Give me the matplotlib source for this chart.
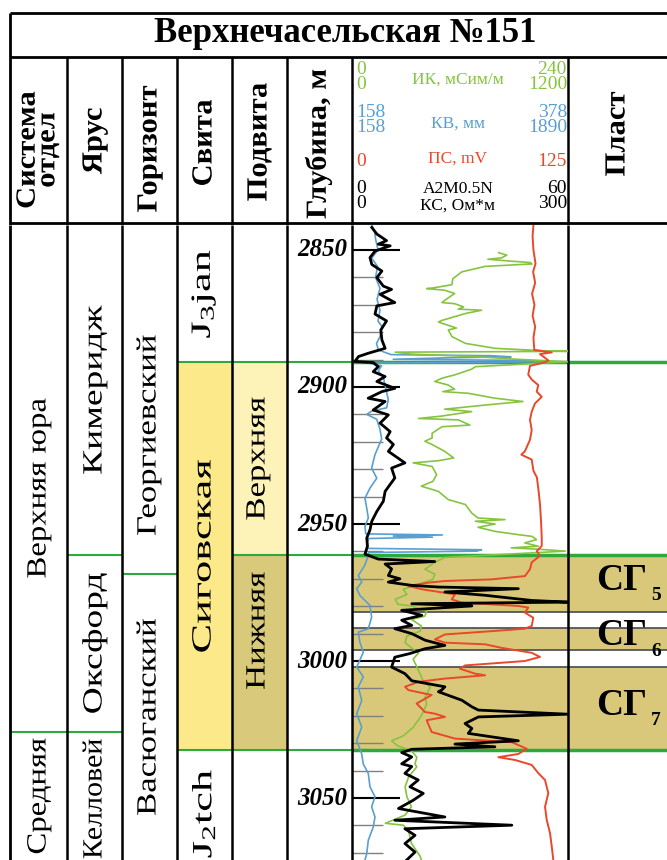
import numpy as np
import matplotlib
matplotlib.use("Agg")
import matplotlib.pyplot as plt
from matplotlib.patheffects import AbstractPathEffect
from matplotlib.transforms import Affine2D

plt.rcParams['font.family'] = ['Liberation Serif', 'DejaVu Serif']
plt.rcParams['mathtext.fontset'] = 'custom'
plt.rcParams['mathtext.rm'] = 'Liberation Serif'
plt.rcParams['mathtext.it'] = 'Liberation Serif:italic'
plt.rcParams['mathtext.bf'] = 'Liberation Serif:bold'

# ---------------- data ----------------
well_name = "Верхнечасельская №151"

# depth window of the log (m)
d_top, d_bot = 2840.9, 3072.6

# stratigraphy: names, top and bottom depths
system_names = ["Верхняя юра", "Средняя"]
system_tops = [2840.9, 3025.9]
system_bots = [3025.9, 3072.6]

stage_names = ["Кимеридж", "Оксфорд", "Келловей"]
stage_tops = [2840.9, 2961.3, 3025.9]
stage_bots = [2961.3, 3025.9, 3072.6]

horizon_names = ["Георгиевский", "Васюганский"]
horizon_tops = [2840.9, 2968.2]
horizon_bots = [2968.2, 3072.6]

suite_names = [r"$\mathrm{J_3jan}$", "Сиговская", r"$\mathrm{J_2tch}$"]
suite_tops = [2840.9, 2890.9, 3032.5]
suite_bots = [2890.9, 3032.5, 3072.6]

subsuite_names = ["Верхняя", "Нижняя"]
subsuite_tops = [2890.9, 2961.3]
subsuite_bots = [2961.3, 3032.5]

# reservoir beds
bed_names = ["СГ", "СГ", "СГ"]
bed_index = ["5", "6", "7"]
bed_tops = [2961.3, 2988.0, 3002.2]
bed_bots = [2982.1, 2996.0, 3032.5]

# ИК, мСим/м (0-240)
ik_depth = [2851.0, 2851.9, 2852.9, 2853.4, 2854.1, 2854.6, 2855.1, 2856.0, 2858.0, 2860.5,
            2862.7, 2863.9, 2864.1, 2864.7, 2865.9, 2868.4, 2869.2, 2869.6, 2870.8, 2871.6,
            2872.0, 2873.2, 2875.7, 2876.3, 2878.5, 2879.2, 2881.6, 2884.1, 2885.9, 2886.8,
            2887.0, 2887.3, 2888.0, 2889.0, 2889.9, 2890.8, 2892.6, 2893.5, 2895.6, 2896.8,
            2898.0, 2899.3, 2900.8, 2901.7, 2902.3, 2904.1, 2905.3, 2906.6, 2908.1, 2909.0,
            2910.6, 2911.5, 2912.0, 2913.9, 2914.5, 2916.9, 2918.6, 2919.8, 2921.0, 2923.5,
            2925.9, 2926.9, 2927.7, 2929.0, 2932.0, 2934.4, 2936.2, 2938.1, 2941.1, 2942.9,
            2946.0, 2947.8, 2948.4, 2949.0, 2950.0, 2951.2, 2952.7, 2953.9, 2954.5, 2955.7,
            2956.9, 2958.1, 2958.7, 2959.2, 2959.9, 2962.2, 2964.0, 2966.5, 2968.3, 2970.2,
            2972.0, 2973.8, 2975.7, 2977.5, 2979.3, 2979.9, 2981.8, 2983.6, 2984.8, 2987.2,
            2989.1, 2990.9, 2993.3, 2995.2, 2997.0, 2999.3, 3003.5, 3007.2, 3009.6, 3013.3,
            3015.7, 3020.0, 3024.2, 3027.3, 3029.1, 3031.0, 3032.7, 3035.1, 3037.6, 3038.6,
            3042.2, 3045.9, 3049.5, 3053.2, 3056.2, 3059.2, 3059.9, 3062.2, 3066.5, 3071.4,
            3072.6]
ik_value = [163, 172, 166, 151, 177, 198, 200, 148, 122, 112,
            111, 89, 83, 103, 114, 103, 100, 114, 124, 118,
            144, 126, 100, 96, 116, 107, 111, 126, 159, 214,
            240, 48, 66, 140, 184, 240, 137, 133, 114, 100,
            92, 107, 114, 101, 129, 159, 190, 148, 103, 133,
            100, 74, 118, 131, 100, 89, 89, 81, 89, 103,
            113, 96, 68, 89, 94, 90, 77, 96, 107, 126,
            133, 140, 170, 137, 159, 140, 159, 185, 200, 205,
            192, 207, 177, 207, 237, 103, 92, 81, 92, 90,
            74, 57, 61, 48, 51, 66, 83, 81, 66, 77,
            76, 61, 59, 66, 74, 68, 74, 79, 87, 81,
            83, 77, 68, 57, 44, 51, 66, 72, 70, 72,
            63, 59, 61, 66, 59, 37, 57, 63, 66, 76,
            77]

# ПС, mV (0-125)
ps_depth = [2840.9, 2845.0, 2850.0, 2855.0, 2858.0, 2862.0, 2866.0, 2870.0, 2874.0, 2878.0,
            2882.0, 2886.5, 2887.4, 2888.0, 2890.3, 2891.0, 2892.3, 2895.5, 2897.3, 2899.3,
            2901.7, 2903.6, 2906.0, 2909.0, 2912.0, 2915.7, 2919.3, 2923.5, 2924.7, 2926.5,
            2930.6, 2933.0, 2938.0, 2942.9, 2949.0, 2955.0, 2958.0, 2959.9, 2961.6, 2964.0,
            2966.5, 2969.0, 2970.2, 2970.8, 2971.4, 2972.6, 2973.8, 2975.7, 2977.5, 2978.7,
            2979.9, 2980.5, 2982.3, 2984.2, 2987.2, 2988.2, 2989.1, 2990.3, 2992.1, 2993.3,
            2993.9, 2995.2, 2997.0, 2998.5, 3000.0, 3001.6, 3002.8, 3004.6, 3005.2, 3006.4,
            3007.6, 3009.4, 3010.6, 3012.4, 3015.5, 3018.6, 3019.2, 3020.4, 3021.6, 3025.9,
            3028.3, 3029.6, 3032.0, 3033.9, 3035.1, 3036.1, 3037.9, 3040.9, 3043.4, 3048.2,
            3053.2, 3058.0, 3062.8, 3067.7, 3072.6]
ps_value = [105.0, 104.5, 105.0, 106.2, 104.8, 106.0, 104.2, 105.6, 104.5, 106.0,
            105.0, 105.5, 115.6, 108.8, 113.6, 111.7, 103.0, 102.0, 104.0, 107.8,
            106.9, 109.8, 105.9, 104.0, 103.0, 104.0, 103.0, 100.0, 98.0, 104.0,
            105.0, 107.0, 108.0, 108.8, 109.4, 109.8, 109.8, 106.9, 108.8, 104.0,
            103.0, 100.1, 80.8, 53.8, 44.2, 32.6, 40.3, 59.6, 57.7, 63.5,
            96.3, 102.0, 100.0, 104.9, 104.0, 100.0, 80.8, 53.8, 48.0, 53.8,
            77.0, 86.6, 104.0, 108.8, 100.0, 65.4, 62.5, 71.2, 77.0, 53.8,
            38.4, 30.7, 32.6, 46.1, 37.4, 42.2, 48.0, 53.8, 43.2, 46.1,
            59.6, 92.4, 101.1, 96.3, 84.7, 94.3, 104.0, 107.8, 111.7, 113.6,
            111.7, 112.7, 114.6, 115.6, 116.5]

# КВ, мм (158-378)
kv_depth = [2840.9, 2843.0, 2846.0, 2850.0, 2853.0, 2856.0, 2860.0, 2864.0, 2868.0, 2872.0,
            2876.0, 2878.0, 2881.6, 2884.1, 2886.5, 2888.2, 2888.6, 2889.0, 2889.4, 2889.9,
            2890.3, 2890.7, 2891.0, 2891.3, 2892.3, 2894.1, 2896.5, 2899.3, 2904.6, 2907.6,
            2908.8, 2910.0, 2911.8, 2915.4, 2919.0, 2924.7, 2929.6, 2933.3, 2936.9, 2940.6,
            2944.2, 2947.8, 2950.9, 2953.6, 2954.0, 2954.4, 2954.8, 2955.3, 2957.1, 2958.9,
            2959.4, 2959.9, 2960.4, 2961.5, 2965.1, 2968.8, 2971.2, 2973.6, 2976.1, 2979.7,
            2984.0, 2988.2, 2989.5, 2993.1, 2996.8, 3002.2, 3005.8, 3009.5, 3014.4, 3019.2,
            3024.1, 3029.0, 3033.9, 3037.6, 3041.0, 3045.9, 3049.5, 3053.2, 3056.9, 3060.5,
            3065.4, 3070.3, 3072.6]
kv_value = [178, 181, 182, 184.5, 178, 184, 182, 186.5, 183.5, 186.5,
            184.5, 188.6, 186.5, 183, 184.8, 198, 300, 320, 250, 200,
            330, 355, 300, 175, 188, 184.8, 190, 191.6, 195, 193.3,
            178, 173, 183.2, 186.5, 188.2, 181.4, 178, 183.2, 176.3, 171.2,
            173, 174.6, 171.2, 172, 250, 200, 240, 175, 173, 173,
            290, 285, 175, 174.6, 171, 164.4, 168, 162.8, 166.1, 176.3,
            178, 174.6, 164.4, 166, 169.5, 162.8, 169.5, 164.4, 167.9, 162.8,
            167.9, 162.8, 167.9, 169.5, 174.6, 176.3, 181.4, 178, 181.4, 179.7,
            174.6, 173, 171.2]

# КС, Ом*м, A2M0.5N (0-60)
ks_depth = [2841.8, 2844.2, 2846.6, 2847.9, 2848.5, 2850.4, 2852.8, 2855.3, 2857.7, 2860.1,
            2863.2, 2864.4, 2866.2, 2869.2, 2870.4, 2873.4, 2875.9, 2879.2, 2882.8, 2885.9,
            2887.7, 2888.9, 2890.7, 2891.1, 2892.6, 2894.4, 2896.2, 2898.0, 2900.5, 2901.7,
            2904.1, 2905.3, 2908.4, 2910.2, 2913.2, 2916.3, 2918.6, 2921.0, 2923.5, 2927.7,
            2929.6, 2933.2, 2938.1, 2941.7, 2945.4, 2949.0, 2952.1, 2955.1, 2958.1, 2961.0,
            2962.8, 2963.7, 2964.6, 2966.4, 2968.8, 2970.0, 2971.2, 2972.4, 2973.0, 2973.6,
            2974.8, 2976.0, 2977.9, 2978.5, 2979.1, 2979.9, 2981.5, 2983.3, 2985.1, 2987.0,
            2988.2, 2990.0, 2992.4, 2994.3, 2995.5, 2997.3, 2998.6, 3002.2, 3004.6, 3007.2,
            3009.4, 3010.6, 3011.2, 3014.3, 3016.7, 3017.9, 3019.4, 3020.4, 3022.8, 3024.6,
            3026.4, 3029.1, 3030.3, 3031.3, 3032.2, 3033.4, 3035.0, 3037.5, 3038.5, 3041.0,
            3043.4, 3045.9, 3048.3, 3050.8, 3053.8, 3056.9, 3058.1, 3059.9, 3061.2, 3063.6,
            3066.6, 3069.7, 3072.6]
ks_value = [5.5, 6.9, 9.6, 7.3, 10.6, 6.4, 5.0, 5.5, 8.3, 6.9,
            8.7, 11.0, 7.8, 11.9, 6.9, 6.4, 9.6, 8.0, 8.3, 9.2,
            4.5, 1.8, 0.8, 5.9, 7.3, 5.9, 9.2, 6.9, 11.9, 8.3,
            4.5, 9.2, 5.9, 10.1, 7.8, 10.6, 9.6, 11.5, 10.1, 14.7,
            11.0, 11.9, 9.2, 8.7, 6.9, 5.5, 5.0, 4.1, 4.3, 3.6,
            7.3, 23.0, 9.2, 11.0, 10.1, 13.3, 10.1, 16.6, 24.0, 46.2,
            25.8, 36.9, 49.9, 60.0, 16.6, 33.3, 13.8, 19.4, 13.8, 16.6,
            11.9, 16.6, 20.3, 25.8, 20.3, 16.0, 11.9, 11.0, 14.7, 16.6,
            25.8, 24.9, 24.0, 30.5, 33.3, 35.1, 60.0, 35.1, 31.4, 33.3,
            32.3, 46.2, 28.6, 39.7, 16.6, 13.8, 16.6, 13.8, 16.6, 14.7,
            18.4, 16.1, 19.8, 17.0, 12.9, 25.8, 11.9, 44.4, 14.7, 17.5,
            14.7, 17.5, 15.2]

# ---------------- layout (pixels) ----------------
W, H = 667, 860
HEAD = 225
col_x = [10, 67, 122, 177, 232, 287, 352, 568]
track_l, track_r = 352, 568

c_green_line = "#2eaa3c"
c_ik, c_kv, c_ps = "#86c440", "#5a9fd0", "#e8482c"
c_sig, c_up, c_low, c_bed = "#fce98a", "#fdf2b8", "#d8c97b", "#d9c87a"


class Stretch(AbstractPathEffect):
    """draw the text path stretched along its own baseline (tall narrow look)"""

    def __init__(self, sx):
        super().__init__()
        self.sx = sx

    def draw_path(self, renderer, gc, tpath, affine, rgbFace=None):
        ext = tpath.get_extents()
        cx = (ext.x0 + ext.x1) / 2
        pre = Affine2D().translate(-cx, 0).scale(self.sx, 1).translate(cx, 0)
        renderer.draw_path(gc, tpath, pre + affine, rgbFace)


fig = plt.figure(figsize=(W / 100, H / 100), dpi=100)

# ---------------- header ----------------
ah = fig.add_axes([0, 1 - HEAD / H, 1, HEAD / H])
ah.set_xlim(0, W)
ah.set_ylim(HEAD, 0)
ah.axis("off")

ah.hlines([13, 57, 223], 10, W, color="k", lw=2)
ah.vlines(10, 13, HEAD, color="k", lw=2)
ah.vlines(col_x[1:], 57, HEAD, color="k", lw=1.8)
ah.text(345, 34, well_name, ha="center", va="center", fontsize=25, fontweight="bold")

ah.text(38, 150, "Система\nотдел", rotation=90, ha="center", va="center", fontsize=20,
        fontweight="bold", linespacing=0.72, multialignment="center",
        path_effects=[Stretch(1.1)])
heads = ["Ярус", "Горизонт", "Свита", "Подвита", "Глубина, м"]
head_x = [94, 149, 204, 259, 318]
head_y = [141, 149, 143, 142, 144]
for t, x, y in zip(heads, head_x, head_y):
    ah.text(x, y, t, rotation=90, ha="center", va="center", fontsize=21, fontweight="bold",
            path_effects=[Stretch(1.05)])
ah.text(617, 134, "Пласт", rotation=90, ha="center", va="center", fontsize=21, fontweight="bold",
        path_effects=[Stretch(1.05)])

# log legend: stacked scale ends and curve names
lx0, lx1, lxc = 356, 567, 458
leg = [
    ("0\n0", "240\n1200", 77, "ИК, мСим/м", 80, c_ik),
    ("158\n158", "378\n1890", 120, "КВ, мм", 124, c_kv),
    ("0", "125", 161, "ПС, mV", 159, c_ps),
    ("0\n0", "60\n300", 196, "A2M0.5N\nКС, Ом*м", 197, "k"),
]
for lo, hi, y, lab, ly, c in leg:
    ah.text(lx0, y, lo, ha="left", va="center", fontsize=14, color=c, linespacing=0.8)
    ah.text(lx1, y, hi, ha="right", va="center", fontsize=14, color=c, linespacing=0.8,
            multialignment="right")
    ah.text(lxc, ly, lab, ha="center", va="center", fontsize=12.5, color=c, linespacing=1.05)

# ---------------- body ----------------
ab = fig.add_axes([0, 0, 1, (H - HEAD) / H])
ab.set_xlim(0, W)
ab.set_ylim(d_bot, d_top)
ab.axis("off")

# fills
ab.fill_between([177, 232], suite_tops[1], suite_bots[1], color=c_sig, lw=0)
ab.fill_between([232, 287], subsuite_tops[0], subsuite_bots[0], color=c_up, lw=0)
ab.fill_between([232, 287], subsuite_tops[1], subsuite_bots[1], color=c_low, lw=0)
for t, b in zip(bed_tops, bed_bots):
    ab.fill_between([track_l, W], t, b, color=c_bed, lw=0)

# green boundaries inside the columns
ab.hlines(system_bots[0], 10, 67, color=c_green_line, lw=1.5)
ab.hlines(stage_bots[:2], 67, 122, color=c_green_line, lw=1.5)
ab.hlines(horizon_bots[0], 122, 177, color=c_green_line, lw=1.5)
ab.hlines([suite_tops[1], suite_bots[1]], 177, track_l, color=c_green_line, lw=1.5)
ab.hlines(subsuite_tops[1], 232, track_l, color=c_green_line, lw=1.5)
ab.hlines([suite_tops[1], subsuite_tops[1], suite_bots[1]], track_l, W, color=c_green_line, lw=2.5, zorder=4)

# grey bed boundaries
ab.hlines([bed_bots[0], bed_tops[1], bed_bots[1], bed_tops[2]], track_l, W, color="#555555", lw=1.3, zorder=4)

# depth ticks
minor = [d for d in np.arange(2860, 3071, 10) if d % 50]
major = np.arange(2850, 3051, 50)
ab.hlines(minor, track_l, 383, color="#808080", lw=1.0, zorder=3)
ab.hlines(major, track_l, 400, color="k", lw=1.5, zorder=3)
for d in major:
    ab.text(347, d, str(d), ha="right", va="center", fontsize=18, fontweight="bold", style="italic")

# column lines
ab.vlines(10, d_top, d_bot, color="k", lw=2)
ab.vlines(col_x[1:], d_top, d_bot, color="k", lw=1.8, zorder=5)


def col_text(x, names, tops, bots, sx, nudge=None, size=20):
    nudge = nudge or [0] * len(names)
    for n, t, b, dy in zip(names, tops, bots, nudge):
        ab.text(x, (t + b) / 2 + dy, n, rotation=90, ha="center", va="center", fontsize=size,
                path_effects=[Stretch(sx)])


col_text(39, system_names, system_tops, system_bots, 1.18, nudge=[3.5, 0])
col_text(95, stage_names[:2], stage_tops[:2], stage_bots[:2], 1.35)
col_text(95, stage_names[2:], stage_tops[2:], stage_bots[2:], 1.08, nudge=[1])
col_text(149, horizon_names, horizon_tops, horizon_bots, 1.25, nudge=[13, 0])
col_text(204, suite_names, suite_tops, suite_bots, 1.6, nudge=[0, 0, 3])
col_text(258, subsuite_names, subsuite_tops, subsuite_bots, 1.25, nudge=[0, -8])

for n, i, t, b in zip(bed_names, bed_index, bed_tops, bed_bots):
    ab.text(596, (t + b) / 2 - 1.2, n, ha="left", va="center", fontsize=27, fontweight="bold", zorder=6)
    ab.text(651, (t + b) / 2 + 4.5, i, ha="left", va="center", fontsize=14, fontweight="bold", zorder=6)

# ---------------- curves ----------------
curves = [
    (kv_depth, kv_value, (158, 378), c_kv, 1.2),
    (ik_depth, ik_value, (0, 240), c_ik, 1.2),
    (ps_depth, ps_value, (0, 125), c_ps, 1.4),
    (ks_depth, ks_value, (0, 60), "k", 2.0),
]
pos = [track_l / W, 0, (track_r - track_l) / W, (H - HEAD) / H]
for dep, val, lim, c, lw in curves:
    ax = fig.add_axes(pos)
    ax.patch.set_alpha(0)
    ax.plot(val, dep, color=c, lw=lw)
    ax.set_xlim(*lim)
    ax.set_ylim(d_bot, d_top)
    ax.axis("off")

fig.savefig("out.png", dpi=100)
